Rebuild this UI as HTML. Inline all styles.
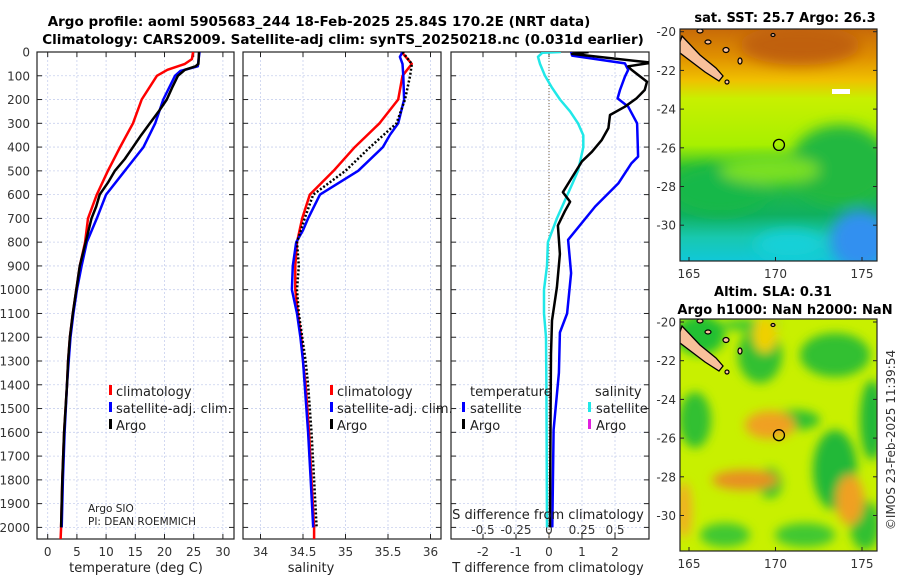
<!DOCTYPE html>
<html><head><meta charset="utf-8">
<style>
html,body{margin:0;padding:0;background:#fff;}
svg{display:block;font-family:"DejaVu Sans","Liberation Sans",sans-serif;}
</style></head>
<body>
<svg id="fig" width="900" height="580" viewBox="0 0 900 580" xmlns="http://www.w3.org/2000/svg">
<defs>
 <clipPath id="c1"><rect x="37" y="52" width="197" height="487"/></clipPath>
 <clipPath id="c2"><rect x="243" y="52" width="198" height="487"/></clipPath>
 <clipPath id="c3"><rect x="451" y="52" width="198" height="487"/></clipPath>
 <clipPath id="m1"><rect x="680" y="29" width="197" height="232"/></clipPath>
 <clipPath id="m2"><rect x="680" y="319" width="197" height="232"/></clipPath>
 <filter id="bl" x="-50%" y="-50%" width="200%" height="200%"><feGaussianBlur stdDeviation="7"/></filter>
 <filter id="bl2" x="-50%" y="-50%" width="200%" height="200%"><feGaussianBlur stdDeviation="5"/></filter>
 <linearGradient id="sstg" x1="0" y1="0" x2="0" y2="1">
  <stop offset="0" stop-color="#c86a08"/><stop offset="0.12" stop-color="#e09000"/>
  <stop offset="0.22" stop-color="#f0c000"/><stop offset="0.3" stop-color="#c8f000"/>
  <stop offset="0.5" stop-color="#a8f000"/><stop offset="0.6" stop-color="#30c030"/>
  <stop offset="0.8" stop-color="#10b060"/><stop offset="0.9" stop-color="#18c8b0"/>
  <stop offset="1" stop-color="#10c8d8"/>
 </linearGradient>
</defs>
<g id="titles">
 <text x="319" y="26" font-size="13.5" font-weight="bold" text-anchor="middle">Argo profile: aoml 5905683_244 18-Feb-2025 25.84S 170.2E (NRT data)</text>
 <text x="343" y="44" font-size="13.5" font-weight="bold" text-anchor="middle">Climatology: CARS2009. Satellite-adj clim: synTS_20250218.nc (0.031d earlier)</text>
</g>
<g id="panels"></g>
<g id="maps"></g>
<text transform="translate(895,440) rotate(-90)" font-size="12" fill="#333" text-anchor="middle">©IMOS 23-Feb-2025 11:39:54</text>
</svg>
<script>
// ---- data ----
const depthTicks=[0,100,200,300,400,500,600,700,800,900,1000,1100,1200,1300,1400,1500,1600,1700,1800,1900,2000];
const tempTicks=[0,5,10,15,20,25,30];
const salTicks=[34,34.5,35,35.5,36];
const salTickLabels=["34","34.5","35","35.5","36"];
const tdiffTicks=[-2,-1,0,1,2];
const sdiffTicks=[-0.5,-0.25,0,0.25,0.5];
const sdiffTickLabels=["-0.5","-0.25","0","0.25","0.5"];

const tClimDepth=[0,30,50,75,100,200,300,400,500,600,700,800,900,1000,1100,1200,1300,1400,1600,1800,2000,2060];
const tClim=[24.9,24.7,23.5,20.5,18.7,16.1,14.6,12.4,10.3,8.4,6.9,6.4,5.5,4.9,4.3,3.8,3.5,3.3,2.8,2.5,2.3,2.2];
const tSatDepth=[0,60,80,100,200,300,400,500,600,700,800,900,1000,1100,1200,1300,1400,1600,1800,2000];
const tSat=[26.0,25.7,22.7,21.8,19.8,18.4,16.4,13.2,10.0,8.4,6.7,5.8,5.0,4.4,3.9,3.6,3.3,2.9,2.6,2.4];
const tArgoDepth=[0,50,60,75,100,150,200,250,300,350,400,450,500,550,600,650,700,800,900,1000,1100,1200,1300,1400,1600,1800,2000];
const tArgo=[25.9,25.8,25.3,23.5,22.3,21.3,20.4,19.0,17.5,16.0,14.6,13.2,11.5,10.3,8.9,8.3,7.5,6.5,5.5,4.9,4.3,3.8,3.5,3.3,2.8,2.5,2.3];

const sClimDepth=[0,50,100,200,300,400,500,600,700,800,900,1000,1100,1200,1300,1400,1600,1800,2000,2060];
const sClim=[35.66,35.78,35.67,35.62,35.40,35.11,34.86,34.58,34.49,34.43,34.41,34.41,34.44,34.48,34.50,34.53,34.57,34.60,34.63,34.63];
const sSatDepth=[0,20,50,100,200,300,350,400,500,600,700,750,800,900,1000,1100,1200,1300,1400,1600,1800,2000];
const sSat=[35.67,35.64,35.67,35.68,35.69,35.62,35.52,35.44,35.15,34.70,34.56,34.50,34.42,34.38,34.37,34.43,34.47,34.50,34.52,34.56,34.59,34.62];
const sArgoDepth=[0,50,100,200,300,400,500,600,700,800,900,1000,1100,1200,1300,1400,1600,1800,2000];
const sArgo=[35.67,35.78,35.76,35.70,35.60,35.29,35.00,34.62,34.52,34.43,34.45,34.43,34.45,34.49,34.53,34.56,34.60,34.63,34.66];

const dTSatDepth=[0,15,48,75,104,160,195,230,300,440,468,553,650,790,930,1100,1180,1350,1590,2000];
const dTSat=[0.67,0.70,2.3,2.4,2.3,2.15,2.08,2.4,2.67,2.7,2.5,2.1,1.4,0.58,0.67,0.55,0.33,0.30,0.14,0.10];
const dTArgoDepth=[0,8,45,60,75,125,160,195,230,265,320,370,420,460,520,590,630,670,730,850,990,1130,1270,1500,2000];
const dTArgo=[1.2,0.7,3.1,2.4,2.5,2.97,2.9,2.65,2.3,1.85,1.8,1.6,1.3,1.0,0.73,0.42,0.64,0.48,0.27,0.33,0.24,0.09,0.06,0.05,0.03];
const dSSatDepth=[0,3,20,50,100,150,200,250,300,350,400,450,500,550,600,700,800,900,1000,1100,1200,1400,2000];
const dSSat=[0.09,-0.05,-0.083,-0.068,-0.03,0.023,0.083,0.16,0.22,0.26,0.26,0.24,0.22,0.18,0.14,0.06,-0.008,-0.015,-0.038,-0.038,-0.023,-0.02,-0.015];

// ---- scales ----
const yD=d=>52+d*0.2377;
const xT=t=>47.7+t*5.84;
const xS=s=>260.5+(s-34)*85;
const xD=v=>549+v*33;
const xSD=v=>549+v*132;

const NS="http://www.w3.org/2000/svg";
function mk(tag,attrs,parent){const e=document.createElementNS(NS,tag);for(const k in attrs)e.setAttribute(k,attrs[k]);if(parent)parent.appendChild(e);return e;}
const panels=document.getElementById('panels');

function line(xs,ds,xf,color,width,dash,clip,name){
  const p=mk('polyline',{points:xs.map((v,i)=>xf(v).toFixed(1)+','+yD(ds[i]).toFixed(1)).join(' '),fill:'none',stroke:color,'stroke-width':width,'stroke-linejoin':'round','clip-path':'url(#'+clip+')'},panels);
  if(dash)p.setAttribute('stroke-dasharray',dash);
  
  
}
function frame(x0,x1,clip,xt,xf,xl,name){
  const g=mk('g',{},panels);
  
  
  depthTicks.forEach(d=>{
    mk('line',{x1:x0,x2:x1,y1:yD(d),y2:yD(d),stroke:'#c8d0ee','stroke-width':0.8,'stroke-dasharray':'2,2'},g);
    mk('line',{x1:x0,x2:x0+5,y1:yD(d),y2:yD(d),stroke:'#222','stroke-width':1},g);
    mk('line',{x1:x1-5,x2:x1,y1:yD(d),y2:yD(d),stroke:'#222','stroke-width':1},g);
  });
  xt.forEach((v,i)=>{
    const x=xf(v);
    mk('line',{x1:x,x2:x,y1:52,y2:539,stroke:'#c8d0ee','stroke-width':0.8,'stroke-dasharray':'2,2'},g);
    mk('line',{x1:x,x2:x,y1:52,y2:57,stroke:'#222'},g);
    mk('line',{x1:x,x2:x,y1:534,y2:539,stroke:'#222'},g);
    const t=mk('text',{x:x,y:556,'font-size':12,fill:'#333','text-anchor':'middle'},g);
    t.textContent=xl[i];
  });
  mk('rect',{x:x0,y:52,width:x1-x0,height:487,fill:'none',stroke:'#222','stroke-width':1.2},g);
  return g;
}
depthTicks.forEach(d=>{
  const t=mk('text',{x:30,y:yD(d)+4.5,'font-size':12,fill:'#333','text-anchor':'end'},panels);
  
  
  t.textContent=d;
});
frame(37,234,'c1',tempTicks,xT,tempTicks.map(String),'temperature-panel');
frame(243,441,'c2',salTicks,xS,salTickLabels,'salinity-panel');
frame(451,649,'c3',tdiffTicks,xD,tdiffTicks.map(String),'difference-panel');
const zl=mk('line',{x1:549,x2:549,y1:52,y2:539,stroke:'#7a6040','stroke-width':1,'stroke-dasharray':'1,2'},panels);


sdiffTicks.forEach((v,i)=>{
  const t=mk('text',{x:xSD(v),y:534,'font-size':12,fill:'#333','text-anchor':'middle'},panels);
  
  
  t.textContent=sdiffTickLabels[i];
});

line(tClim,tClimDepth,xT,'#f00',2.5,null,'c1','temp-climatology-line');
line(tSat,tSatDepth,xT,'#00f',2.5,null,'c1','temp-satellite-line');
line(tArgo,tArgoDepth,xT,'#000',2.5,null,'c1','temp-argo-line');
line(sClim,sClimDepth,xS,'#f00',2.5,null,'c2','sal-climatology-line');
line(sSat,sSatDepth,xS,'#00f',2.5,null,'c2','sal-satellite-line');
line(sArgo,sArgoDepth,xS,'#000',2.5,'2,2','c2','sal-argo-line');
line(dSSat,dSSatDepth,xSD,'#20e8e8',2.5,null,'c3','sdiff-satellite-line');
line(dTSat,dTSatDepth,xD,'#00f',2.5,null,'c3','tdiff-satellite-line');
line(dTArgo,dTArgoDepth,xD,'#000',2.5,null,'c3','tdiff-argo-line');

function txt(x,y,s,size,name,anchor,extra){
  const t=mk('text',Object.assign({x:x,y:y,'font-size':size,fill:'#222','text-anchor':anchor||'start'},extra||{}),panels);
  
  
  t.textContent=s;return t;
}
function mark(x,y,c,name){
  const r=mk('rect',{x:x,y:y-11,width:3,height:10,fill:c},panels);
  
  
}
[[109,'temp'],[330,'sal']].forEach(([lx,p])=>{
  mark(lx,396,'#f00',p+'-legend-climatology-marker');txt(lx+7,396,'climatology',13,p+'-legend-climatology');
  mark(lx,413,'#00f',p+'-legend-satellite-marker');txt(lx+7,413,'satellite-adj. clim.',13,p+'-legend-satellite');
  mark(lx,430,'#000',p+'-legend-argo-marker');txt(lx+7,430,'Argo',13,p+'-legend-argo');
});
txt(470,396,'temperature',13,'diff-legend-temperature-header');
mark(462,413,'#00f','diff-legend-t-satellite-marker');txt(470,413,'satellite',13,'diff-legend-t-satellite');
mark(462,430,'#000','diff-legend-t-argo-marker');txt(470,430,'Argo',13,'diff-legend-t-argo');
txt(595,396,'salinity',13,'diff-legend-salinity-header');
mark(588,413,'#20e8e8','diff-legend-s-satellite-marker');txt(596,413,'satellite',13,'diff-legend-s-satellite');
mark(588,430,'#e020e0','diff-legend-s-argo-marker');txt(596,430,'Argo',13,'diff-legend-s-argo');
txt(88,512,'Argo SIO',10.5,'argo-institution');
txt(88,525,'PI: DEAN ROEMMICH',10.5,'argo-pi');
txt(548,519,'S difference from climatology',13,'s-diff-axis-title','middle');
txt(136,572,'temperature (deg C)',13,'temperature-axis-title','middle');
txt(311,572,'salinity',13,'salinity-axis-title','middle');
txt(548,572,'T difference from climatology',13,'t-diff-axis-title','middle');

// ---- maps ----
const maps=document.getElementById('maps');
const lonTicks=[165,170,175];
const latTicks=[-20,-22,-24,-26,-28,-30];
const floatLon=170.2, floatLat=-25.85;
function mapAxes(top,lat20,name){
  const g=mk('g',{},maps);
  
  
  const xl=lon=>689+(lon-165)*17.3;
  const yl=lat=>lat20+(-20-lat)*19.35;
  latTicks.forEach(l=>{
    mk('line',{x1:680,x2:684,y1:yl(l),y2:yl(l),stroke:'#222'},g);
    mk('line',{x1:873,x2:877,y1:yl(l),y2:yl(l),stroke:'#222'},g);
    const t=mk('text',{x:676,y:yl(l)+4.5,'font-size':12,fill:'#333','text-anchor':'end'},g);t.textContent=l;
  });
  lonTicks.forEach(l=>{
    mk('line',{x1:xl(l),x2:xl(l),y1:top+228,y2:top+232,stroke:'#222'},g);
    const t=mk('text',{x:xl(l),y:top+249,'font-size':12,fill:'#333','text-anchor':'middle'},g);t.textContent=l;
  });
  mk('circle',{cx:xl(floatLon),cy:yl(floatLat),r:5.5,fill:'none',stroke:'#000','stroke-width':1.3},g);
  mk('rect',{x:680,y:top,width:197,height:232,fill:'none',stroke:'#222','stroke-width':1.2},g);
}
function land(gp,dy){
  const p=mk('polygon',{points:`680,${42+dy} 682,${36+dy} 700,${55+dy} 716,${68+dy} 723,${76+dy} 719,${81+dy} 705,${72+dy} 680,${53+dy}`,fill:'#f8c09a',stroke:'#000','stroke-width':1.3},gp);
  
  
  [[708,42,3,2],[726,50,3,2.5],[740,61,2,3],[700,31,3,2],[773,35,2,1.5],[727,82,2,2]].forEach(a=>{
    mk('ellipse',{cx:a[0],cy:a[1]+dy,rx:a[2],ry:a[3],fill:'#f8c09a',stroke:'#000','stroke-width':1.2},gp);
  });
}
// SST map
const g1=mk('g',{'clip-path':'url(#m1)'},maps);


mk('rect',{x:680,y:29,width:197,height:232,fill:'url(#sstg)'},g1);
const bf=mk('g',{filter:'url(#bl)'},g1);
mk('ellipse',{cx:840,cy:165,rx:50,ry:40,fill:'#20b840'},bf);
mk('ellipse',{cx:720,cy:190,rx:50,ry:25,fill:'#18b848'},bf);
mk('ellipse',{cx:770,cy:170,rx:50,ry:14,fill:'#7ae020'},bf);
mk('ellipse',{cx:860,cy:240,rx:30,ry:30,fill:'#3090f0'},bf);
mk('ellipse',{cx:790,cy:245,rx:35,ry:15,fill:'#18d0d8'},bf);
mk('ellipse',{cx:800,cy:45,rx:60,ry:20,fill:'#c06010'},bf);
mk('rect',{x:832,y:89,width:18,height:5,fill:'#fff'},g1);
land(g1,0);
mapAxes(29,31.7,'sst-map');
const t1=mk('text',{x:785,y:22,'font-size':13,'font-weight':'bold','text-anchor':'middle'},maps);


t1.textContent='sat. SST: 25.7 Argo: 26.3';
// SLA map
const g2=mk('g',{'clip-path':'url(#m2)'},maps);


mk('rect',{x:680,y:319,width:197,height:232,fill:'#c8f000'},g2);
const bf2=mk('g',{filter:'url(#bl2)'},g2);
[[700,335,25,20,'#20c030'],[695,420,16,28,'#30c030'],[760,355,22,28,'#30c030'],[795,420,25,10,'#30c030'],[835,355,35,22,'#30c030'],[835,470,22,40,'#20b838'],[872,420,12,40,'#20b838'],[770,483,12,15,'#30c030'],[725,535,25,12,'#40c830'],[805,535,30,12,'#40c830'],[865,525,15,25,'#30c030'],[750,325,30,6,'#40c830']].forEach(a=>mk('ellipse',{cx:a[0],cy:a[1],rx:a[2],ry:a[3],fill:a[4]},bf2));
[[770,425,25,14,'#f0a020'],[745,480,33,10,'#e89020'],[850,500,14,25,'#f0a020'],[684,510,8,28,'#f0b020'],[765,335,12,18,'#f0d000']].forEach(a=>mk('ellipse',{cx:a[0],cy:a[1],rx:a[2],ry:a[3],fill:a[4]},bf2));
land(g2,290);
mapAxes(319,322,'sla-map');
const t2=mk('text',{x:773,y:296,'font-size':13,'font-weight':'bold','text-anchor':'middle'},maps);


t2.textContent='Altim. SLA: 0.31';
const t3=mk('text',{x:785,y:314,'font-size':13,'font-weight':'bold','text-anchor':'middle'},maps);


t3.textContent='Argo h1000: NaN h2000: NaN';
</script>
</body></html>
